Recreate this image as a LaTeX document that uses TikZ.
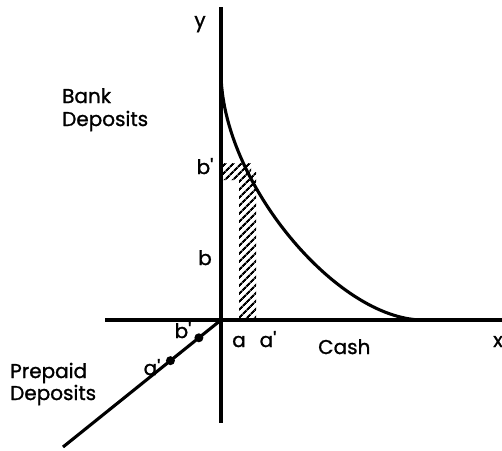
\documentclass[tikz,border=0pt]{standalone}
\usepackage{fontspec}
\setmainfont{Poppins}[FakeBold=1.2]
\usetikzlibrary{patterns.meta,calc}
\newcommand{\pr}{\textquotesingle}
\begin{document}
\begin{tikzpicture}[x=1pt,y=-1pt,
  axis/.style={line width=3.1pt},
  lbl/.style={inner sep=0pt,font=\fontsize{20}{22}\selectfont},
  dotmark/.style={circle,fill=black,inner sep=0pt,minimum size=9pt},
  hatch/.style={pattern={Lines[angle=45,distance=5.4pt,line width=2.2pt]}}]
\useasboundingbox (0,0) rectangle (502,450);
% axes
\coordinate (O) at (221,320);
\coordinate (ytop) at (221,7);
\coordinate (ybot) at (221,423);
\coordinate (xl) at (105,320);
\coordinate (xr) at (502,320);
\coordinate (dend) at (63,447);
\coordinate (cs) at (221,72);
\coordinate (ce) at (423,320);
% hatched region
\fill[hatch] (222,163) -- (251,163) -- (251,172) -- (256,172) -- (256,319) -- (239,319) -- (239,180) -- (222,180) -- cycle;
\draw[axis] (ytop) -- (ybot);
\draw[axis] (xl) -- (xr);
\draw[axis] (O) -- (dend);
% curve
\draw[axis] (cs) .. controls (221,181) and (337,320) .. (ce);
% dots on diagonal
\node[dotmark] (pb) at ($(O)!0.14!(dend)$) {};
\node[dotmark] (pa) at ($(O)!0.32!(dend)$) {};
% labels
\node[lbl,anchor=base] (ly) at (200,27) {y};
\node[lbl,anchor=base west] (bank) at (62,103) {Bank};
\node[lbl,anchor=base west] (bankd) at (62,126) {Deposits};
\node[lbl,anchor=base] (lbp) at (205,174) {b\pr};
\node[lbl,anchor=base] (lb) at (205,265) {b};
\node[lbl,anchor=base] (la) at (239,347) {a};
\node[lbl,anchor=base] (lap) at (268,347) {a\pr};
\node[lbl,anchor=base west] (cash) at (318,354) {Cash};
\node[lbl,anchor=base west] (lx) at (493,347) {x};
\node[lbl,anchor=base west] (pre) at (10,378) {Prepaid};
\node[lbl,anchor=base west] (pred) at (10,400) {Deposits};
\node[lbl,anchor=base] (dap) at (152,375) {a\pr};
\node[lbl,anchor=base] (dbp) at (183,338) {b\pr};
\end{tikzpicture}
\end{document}
